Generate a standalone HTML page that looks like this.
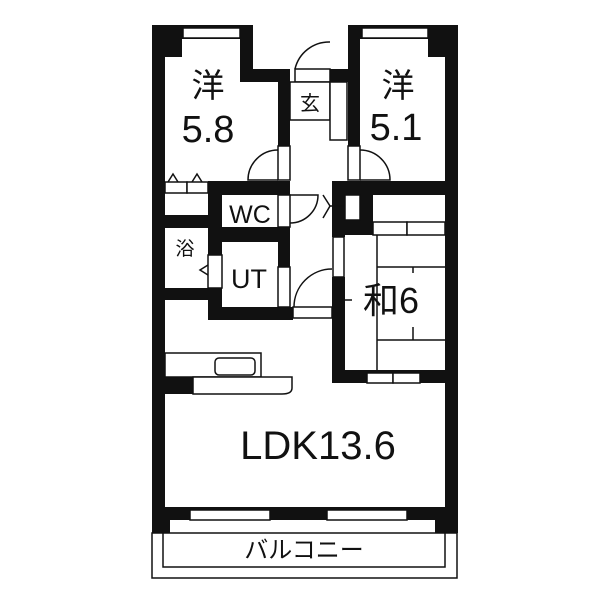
<!DOCTYPE html>
<html><head><meta charset="utf-8"><style>html,body{margin:0;padding:0;background:#fff}svg{display:block}
text{font-family:"Liberation Sans","Noto Sans CJK JP",sans-serif;fill:#111}</style></head><body>
<svg width="600" height="600" viewBox="0 0 600 600" xmlns="http://www.w3.org/2000/svg">
<g fill="#111">
<!-- outer left wall -->
<rect x="152" y="25" width="13" height="508"/>
<rect x="152" y="25" width="30" height="32"/>
<!-- left room top wall -->
<rect x="152" y="25" width="101" height="14"/>
<rect x="240" y="25" width="13" height="57"/>
<rect x="240" y="69" width="50" height="13"/>
<rect x="278" y="69" width="12" height="77"/>
<rect x="330" y="69" width="30" height="13"/>
<!-- right room -->
<rect x="348" y="25" width="110" height="14"/>
<rect x="348" y="25" width="12" height="121"/>
<rect x="428" y="25" width="30" height="32"/>
<rect x="445" y="25" width="13" height="508"/>
<!-- horizontal walls y 180-193 -->
<rect x="208" y="181" width="82" height="14"/>
<rect x="332" y="181" width="126" height="14"/>
<!-- WC / UT -->
<rect x="208" y="181" width="14" height="139"/>
<rect x="165" y="215" width="43" height="13"/>
<rect x="208" y="227" width="82" height="15"/>
<rect x="278" y="227" width="12" height="40"/>
<rect x="165" y="288" width="57" height="12"/>
<rect x="208" y="307" width="85" height="13"/>
<!-- wa room -->
<rect x="332" y="181" width="13" height="56"/>
<rect x="332" y="277" width="13" height="106"/>
<rect x="360" y="181" width="13" height="54"/>
<rect x="332" y="220" width="41" height="15"/>
<rect x="332" y="370" width="126" height="13"/>
<!-- kitchen block -->
<rect x="165" y="377" width="28" height="17"/>
<!-- LDK bottom -->
<rect x="152" y="507" width="306" height="13"/>
<rect x="152" y="507" width="18" height="26"/>
<rect x="435" y="507" width="23" height="26"/>
</g>
<g fill="#fff" stroke="#111" stroke-width="1.5">
<!-- windows -->
<rect x="183" y="28" width="57" height="10"/>
<rect x="362" y="28" width="66" height="10"/>
<rect x="190" y="510" width="80" height="10"/>
<rect x="327" y="510" width="80" height="10"/>
<rect x="367" y="373" width="26" height="10"/>
<rect x="393" y="373" width="27" height="10"/>
<!-- door frames -->
<rect x="278" y="146" width="12" height="34"/>
<rect x="348" y="146" width="12" height="34"/>
<rect x="295" y="69" width="35" height="13"/>
<rect x="278" y="195" width="12" height="32"/>
<rect x="278" y="267" width="12" height="40"/>
<rect x="333" y="237" width="11" height="40"/>
<rect x="293" y="307" width="39" height="11"/>
<rect x="208" y="255" width="14" height="33"/>
<!-- 玄 -->
<rect x="290" y="82" width="40" height="38"/>
<rect x="330" y="82" width="17" height="58"/>
<!-- closet left -->
<rect x="165" y="182" width="22" height="11"/>
<rect x="187" y="182" width="21" height="11"/>
<!-- small closet -->
<rect x="345" y="195" width="15" height="25"/>
<!-- closet right -->
<rect x="373" y="222" width="34" height="13"/>
<rect x="407" y="222" width="38" height="13"/>
<!-- kitchen -->
<rect x="165" y="353" width="96" height="24"/>
<rect x="215" y="358" width="40" height="17" rx="4"/>
<path d="M193 377 H292 V388 Q292 394 282 394 H193 Z"/>
<!-- balcony -->
<rect x="152" y="533" width="305" height="45"/>
<path d="M163 533 V567 H445 V533" fill="none"/>
</g>
<g fill="none" stroke="#111" stroke-width="1.5">
<!-- door arcs -->
<path d="M278 150 A30 30 0 0 0 248 180 H278"/>
<path d="M360 150 A30 30 0 0 1 390 180 H360"/>
<path d="M330 42 A35 35 0 0 0 295 69"/>
<path d="M290 195 H318 A28 28 0 0 1 290 223"/>
<path d="M332 269 A38 38 0 0 0 294 307"/>
<!-- closet triangles -->
<path d="M168 182 L173 174 L178 182 M192 182 L197 174 L202 182"/>
<path d="M208 265 L200 270 L208 275"/>
<path d="M323 195 L330 206 L323 218 M330 206 H345"/>
<!-- tatami -->
<path d="M377 235 V370 M377 267 H445 M413 267 V273 M413 327 V340 M377 340 H445 M345 300 H352"/>
</g>
<text x="208" y="97" font-size="33" text-anchor="middle">洋</text>
<text x="208" y="142" font-size="38" text-anchor="middle">5.8</text>
<text x="398" y="97" font-size="33" text-anchor="middle">洋</text>
<text x="396" y="140" font-size="38" text-anchor="middle">5.1</text>
<text x="310" y="110" font-size="20" text-anchor="middle">玄</text>
<text x="250" y="223" font-size="25" text-anchor="middle">WC</text>
<text x="185" y="255" font-size="19" text-anchor="middle">浴</text>
<text x="249" y="288" font-size="27" text-anchor="middle">UT</text>
<text x="391" y="313" font-size="36" text-anchor="middle">和6</text>
<text x="318" y="459" font-size="40" text-anchor="middle">LDK13.6</text>
<text x="304" y="558" font-size="24" text-anchor="middle">バルコニー</text>
</svg>
</body></html>
